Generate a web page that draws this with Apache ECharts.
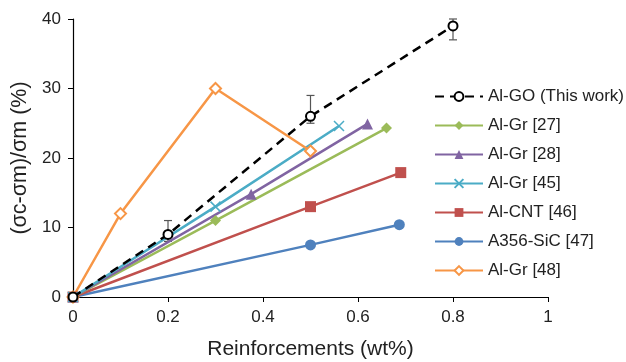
<!DOCTYPE html>
<html>
<head>
<meta charset="utf-8">
<script src="https://cdn.jsdelivr.net/npm/echarts@6/dist/echarts.min.js"></script>
<style>
  html, body { margin: 0; padding: 0; background: #fff; }
  #chart { width: 626px; height: 362px; }
</style>
</head>
<body>
<div id="chart"></div>
<script>
// data: [wt%, strengthening %]
var alGO = [[0, 0], [0.2, 9], [0.5, 26], [0.8, 39]];
var alGOErr = [[0.2, 8, 11], [0.5, 25, 29], [0.8, 37, 40]]; // x, low, high
var alGr27 = [[0, 0], [0.3, 11], [0.66, 24.3]];
var alGr28 = [[0, 0], [0.375, 14.8], [0.62, 24.9]];
var alGr45 = [[0, 0], [0.3, 13], [0.56, 24.6]];
var alCNT46 = [[0, 0], [0.5, 13], [0.69, 17.9]];
var a356SiC47 = [[0, 0], [0.5, 7.5], [0.687, 10.4]];
var alGr48 = [[0, 0], [0.1, 12], [0.3, 30], [0.5, 21]];
var xTicks = [0, 0.2, 0.4, 0.6, 0.8, 1];
var yTicks = [0, 10, 20, 30, 40];

var FONT = 'Liberation Sans, Arial, sans-serif';
var crossPath = 'path://M0,0L10,10M10,0L0,10';

function lineSeries(name, data, color, symbol, size, extra) {
  var s = {
    name: name,
    type: 'line',
    data: data,
    symbol: symbol,
    symbolSize: size,
    lineStyle: { color: color, width: 2.5 },
    itemStyle: { color: color },
    emphasis: { disabled: true }
  };
  if (extra) Object.assign(s, extra);
  return s;
}

var chart = echarts.init(document.getElementById('chart'));
chart.setOption({
  animation: false,
  textStyle: { fontFamily: FONT },
  grid: { left: 73, right: 78, top: 19, bottom: 65, outerBoundsMode: 'none' },
  legend: {
    orient: 'vertical',
    left: 429,
    top: 83,
    itemWidth: 48,
    itemHeight: 11,
    itemGap: 12,
    textStyle: { fontSize: 17, color: '#222', fontFamily: FONT },
    data: ['Al-GO (This work)', 'Al-Gr [27]', 'Al-Gr [28]', 'Al-Gr [45]', 'Al-CNT [46]', 'A356-SiC [47]', 'Al-Gr [48]']
  },
  xAxis: {
    type: 'value',
    min: 0, max: 1, interval: 0.2,
    name: 'Reinforcements (wt%)',
    nameLocation: 'middle',
    nameGap: 42,
    nameTextStyle: { fontSize: 21, color: '#222' },
    axisLine: { lineStyle: { color: '#000', width: 1.2 } },
    axisTick: { show: true, length: 5, lineStyle: { color: '#000' } },
    axisLabel: { fontSize: 17, color: '#222', margin: 12 },
    splitLine: { show: false }
  },
  yAxis: {
    type: 'value',
    min: 0, max: 40, interval: 10,
    name: '(σc-σm)/σm (%)',
    nameLocation: 'middle',
    nameGap: 42,
    nameTextStyle: { fontSize: 21.5, color: '#222' },
    axisLine: { show: true, lineStyle: { color: '#000', width: 1.2 } },
    axisTick: { show: true, length: 5, lineStyle: { color: '#000' } },
    axisLabel: { fontSize: 17, color: '#222', margin: 12 },
    splitLine: { show: false }
  },
  series: [
    lineSeries('A356-SiC [47]', a356SiC47, '#4F81BD', 'circle', 11),
    lineSeries('Al-CNT [46]', alCNT46, '#C0504D', 'rect', 11),
    lineSeries('Al-Gr [27]', alGr27, '#9BBB59', 'diamond', 11),
    lineSeries('Al-Gr [28]', alGr28, '#8064A2', 'triangle', 11),
    lineSeries('Al-Gr [45]', alGr45, '#4BACC6', crossPath, 10, {
      itemStyle: { color: '#4BACC6', borderColor: '#4BACC6', borderWidth: 1.5 }
    }),
    lineSeries('Al-Gr [48]', alGr48, '#F79646', 'emptyDiamond', 11, {
      itemStyle: { color: '#F79646', borderWidth: 1.3 }
    }),
    {
      name: 'Al-GO error',
      type: 'custom',
      data: alGOErr,
      renderItem: function (params, api) {
        var x = api.value(0);
        var lo = api.coord([x, api.value(1)]);
        var hi = api.coord([x, api.value(2)]);
        var w = 4;
        var st = { stroke: '#555', lineWidth: 1.2 };
        return {
          type: 'group',
          children: [
            { type: 'line', shape: { x1: lo[0], y1: lo[1], x2: hi[0], y2: hi[1] }, style: st },
            { type: 'line', shape: { x1: lo[0] - w, y1: lo[1], x2: lo[0] + w, y2: lo[1] }, style: st },
            { type: 'line', shape: { x1: hi[0] - w, y1: hi[1], x2: hi[0] + w, y2: hi[1] }, style: st }
          ]
        };
      },
      z: 3
    },
    lineSeries('Al-GO (This work)', alGO, '#000', 'emptyCircle', 9, {
      lineStyle: { color: '#000', width: 2.5, type: [9, 6] },
      itemStyle: { color: '#000', borderWidth: 1 },
      z: 4
    })
  ]
});
</script>
</body>
</html>
